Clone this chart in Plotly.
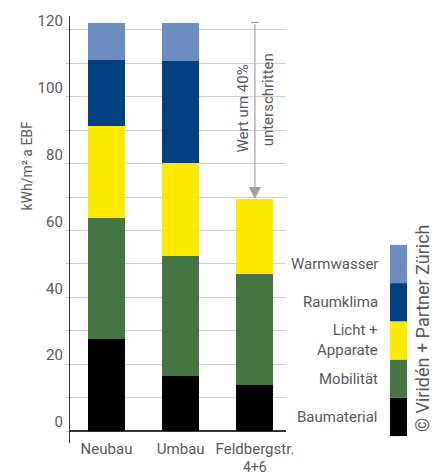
import plotly.graph_objects as go

# ---- data ----
categories = ["Neubau", "Umbau", "Feldbergstr.", "4+6"]  # last entry = second line of 3rd label
components = ["Baumaterial", "Mobilität", "Licht +<br>Apparate", "Raumklima", "Warmwasser"]
baumaterial = [27.6, 16.6, 13.9]
mobilitaet = [36.1, 35.8, 33.2]
licht_apparate = [27.6, 27.9, 22.3]
raumklima = [19.6, 30.5, 0.0]
warmwasser = [11.3, 11.3, 0.0]
y_tick_values = list(range(0, 121, 10))
y_tick_labels = [str(v) if v % 20 == 0 else "" for v in y_tick_values]
annotation_lines = ["Wert um 40%", "unterschritten"]
copyright_text = "© Viridén + Partner Zürich"
y_title = "kWh/m² a EBF"

colors = ["#000000", "#457543", "#ffeb00", "#023f80", "#6a8cbf"]
series = [baumaterial, mobilitaet, licht_apparate, raumklima, warmwasser]

TXT = "#58595b"
FONT = "Roboto"

# layout geometry (pixels)
W, H = 445, 476
ML, MR, MT, MB = 70, 159, 12, 33
PW, PH = W - ML - MR, H - MT - MB


def px_x(px):
    return (px - ML) / PW


def px_y(py):
    return (H - MB - py) / PH


xpos = [0, 1, 2]
fig = go.Figure()
for name, vals, col in zip(components, series, colors):
    fig.add_trace(go.Bar(x=xpos, y=vals, name=name, width=0.5,
                         marker=dict(color=col, line=dict(width=0)),
                         showlegend=False))

total_ref = sum(s[0] for s in series)
total_new = sum(s[2] for s in series)

shapes = []
annotations = []

# white mask behind the rotated note
shapes.append(dict(type="rect", xref="x", yref="y", x0=1.74, x1=2.31,
                   y0=83.5, y1=116, fillcolor="white", line=dict(width=0),
                   layer="below"))
# cap at top of arrow
shapes.append(dict(type="line", xref="x", yref="y", x0=2 - 0.05, x1=2 + 0.05,
                   y0=total_ref, y1=total_ref, line=dict(color="#9fa2a6", width=1.2)))

# arrow from reference total to new total
annotations.append(dict(x=2, y=total_new, ax=2, ay=total_ref, xref="x", yref="y",
                        axref="x", ayref="y", showarrow=True, arrowhead=2,
                        arrowsize=2, arrowwidth=1.2, arrowcolor="#9fa2a6",
                        standoff=0, text=""))
annotations.append(dict(x=1.84, y=96.5, xref="x", yref="y", text=annotation_lines[0],
                        textangle=-90, showarrow=False, xanchor="center", yanchor="middle",
                        font=dict(family=FONT, size=15, color=TXT)))
annotations.append(dict(x=2.18, y=99, xref="x", yref="y", text=annotation_lines[1],
                        textangle=-90, showarrow=False, xanchor="center", yanchor="middle",
                        font=dict(family=FONT, size=15, color=TXT)))

# second line of 3rd category label
annotations.append(dict(x=2, y=px_y(467), xref="x", yref="paper", text=categories[3],
                        showarrow=False, xanchor="center", yanchor="middle",
                        font=dict(family=FONT, size=14, color=TXT)))

# y axis title
annotations.append(dict(x=px_x(27), y=px_y(163), xref="paper", yref="paper",
                        text=y_title, textangle=-90, showarrow=False,
                        xanchor="center", yanchor="middle",
                        font=dict(family=FONT, size=14, color=TXT)))

# custom legend (colour column + right-aligned labels)
blk_h = 38.6
bottom = 436
for i, (name, col) in enumerate(zip(components, colors)):
    y1 = bottom - i * blk_h
    y0 = y1 - blk_h
    shapes.append(dict(type="rect", xref="paper", yref="paper",
                       x0=px_x(390), x1=px_x(407), y0=px_y(y1), y1=px_y(y0),
                       fillcolor=col, line=dict(width=0)))
    annotations.append(dict(x=px_x(380), y=px_y((y0 + y1) / 2), xref="paper", yref="paper",
                            text=name, showarrow=False, xanchor="right", yanchor="middle",
                            align="right",
                            font=dict(family=FONT, size=15, color=TXT)))

annotations.append(dict(x=px_x(422), y=px_y(327), xref="paper", yref="paper",
                        text=copyright_text, textangle=-90, showarrow=False,
                        xanchor="center", yanchor="middle",
                        font=dict(family=FONT, size=18, color=TXT)))

fig.update_layout(
    width=W, height=H,
    margin=dict(l=ML, r=MR, t=MT, b=MB, pad=0),
    barmode="stack",
    plot_bgcolor="white", paper_bgcolor="white",
    font=dict(family=FONT, color=TXT, size=15),
    shapes=shapes, annotations=annotations,
    xaxis=dict(range=[-0.492, 2.419], tickvals=xpos, ticktext=categories[:3],
               showgrid=False, zeroline=False, showline=False, ticks="",
               ticklabelstandoff=-5,
               tickfont=dict(family=FONT, size=15, color=TXT)),
    yaxis=dict(range=[-(12 / 3.375), 124.15], tickvals=y_tick_values,
               ticktext=y_tick_labels, showgrid=True, gridcolor="#cfcfcf",
               gridwidth=1, ticks="outside", ticklen=3, tickcolor="#cfcfcf",
               showline=True, linecolor="#333333", linewidth=1.3,
               zeroline=True, zerolinecolor="#333333", zerolinewidth=1.5,
               ticklabelshift=-9,
               tickfont=dict(family=FONT, size=15, color=TXT)),
)

fig.write_html("out.html", config={"displayModeBar": False},
               post_script=["document.body.style.margin='0px';"])
